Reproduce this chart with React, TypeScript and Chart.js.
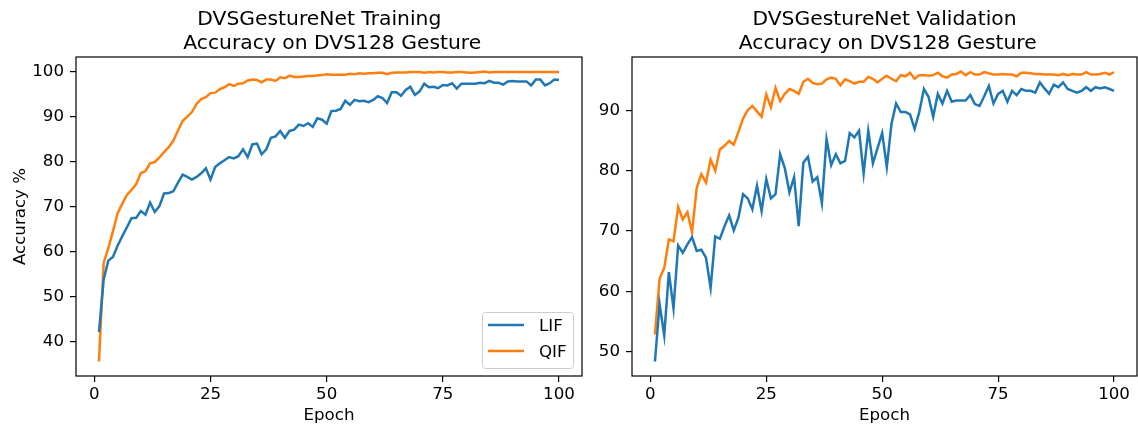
import { useEffect, useRef } from "react";
import { Chart, registerables } from "chart.js";

Chart.register(...registerables);
Chart.defaults.font.family = "'DejaVu Sans', sans-serif";
Chart.defaults.color = "#000";

// Epoch numbers 1..100 on the x axis
const epochs: number[] = Array.from({ length: 100 }, (_, i) => i + 1);

const trainLIF: number[] = [
  42.1, 53.8, 58.0, 58.8, 61.3, 63.4, 65.4, 67.4, 67.5, 69.0,
  68.2, 70.9, 68.8, 70.1, 72.9, 73.0, 73.4, 75.3, 77.1, 76.6,
  76.0, 76.6, 77.4, 78.5, 76.0, 78.8, 79.6, 80.3, 81.0, 80.7,
  81.2, 82.7, 81.0, 83.8, 84.0, 81.6, 82.7, 85.3, 85.6, 86.8,
  85.3, 86.8, 87.1, 88.2, 87.9, 88.5, 87.7, 89.6, 89.3, 88.4,
  91.2, 91.3, 91.7, 93.5, 92.6, 93.7, 93.4, 93.5, 93.2, 93.7,
  94.5, 94.1, 93.0, 95.4, 95.4, 94.6, 95.9, 96.6, 94.8, 95.6,
  97.3, 96.5, 96.6, 96.3, 97.0, 96.9, 97.4, 96.2, 97.3, 97.3,
  97.3, 97.3, 97.5, 97.4, 97.9, 97.5, 97.5, 97.1, 97.8, 97.9,
  97.8, 97.8, 97.8, 96.9, 98.2, 98.2, 96.9, 97.4, 98.2, 98.1,
];

const trainQIF: number[] = [
  35.6, 57.5, 60.8, 64.5, 68.5, 70.6, 72.6, 73.7, 75.0, 77.4,
  77.9, 79.6, 79.9, 80.9, 82.1, 83.2, 84.6, 86.9, 89.0, 90.0,
  91.0, 92.8, 93.9, 94.3, 95.2, 95.3, 96.1, 96.5, 97.2, 96.8,
  97.3, 97.4, 98.0, 98.2, 98.1, 97.6, 98.2, 98.2, 97.9, 98.7,
  98.5, 99.1, 98.8, 98.8, 98.9, 99.0, 99.0, 99.1, 99.2, 99.4,
  99.3, 99.3, 99.3, 99.3, 99.5, 99.4, 99.6, 99.5, 99.6, 99.6,
  99.7, 99.7, 99.4, 99.7, 99.8, 99.8, 99.8, 99.9, 99.9, 99.9,
  99.7, 99.9, 99.8, 99.9, 99.9, 99.8, 99.8, 99.9, 99.9, 99.8,
  99.7, 99.8, 99.9, 100.0, 99.8, 99.9, 99.9, 99.9, 99.9, 99.9,
  99.9, 99.9, 99.9, 99.9, 99.9, 99.9, 99.9, 99.9, 99.9, 99.9,
];

const valLIF: number[] = [
  48.4, 57.9, 52.7, 63.2, 57.2, 67.6, 66.4, 67.8, 69.0, 66.7,
  66.9, 65.6, 60.6, 69.1, 68.7, 70.8, 72.6, 70.1, 72.2, 76.1,
  75.4, 73.6, 77.5, 73.3, 78.6, 75.4, 76.1, 82.7, 80.4, 76.4,
  78.9, 70.8, 81.3, 82.3, 78.2, 78.9, 74.6, 85.2, 80.9, 82.7,
  81.2, 81.6, 86.2, 85.5, 86.6, 79.5, 86.6, 81.2, 83.7, 86.2,
  80.6, 87.7, 91.1, 89.7, 89.7, 89.3, 86.9, 89.7, 93.5, 92.2,
  88.9, 92.7, 91.1, 93.2, 91.4, 91.6, 91.6, 91.6, 92.5, 91.0,
  90.7, 92.3, 94.0, 91.1, 92.7, 93.2, 91.4, 93.2, 92.5, 93.5,
  93.2, 93.2, 92.9, 94.6, 93.6, 92.7, 94.2, 93.8, 94.6, 93.5,
  93.2, 92.9, 93.2, 93.8, 93.2, 93.8, 93.6, 93.8, 93.5, 93.2,
];

const valQIF: number[] = [
  52.9, 62.1, 63.9, 68.6, 68.3, 74.0, 71.9, 73.1, 69.8, 77.1,
  79.4, 78.0, 81.8, 80.0, 83.5, 84.1, 84.9, 84.3, 86.4, 88.6,
  90.0, 90.7, 89.8, 88.9, 92.6, 90.5, 93.7, 91.5, 92.7, 93.5,
  93.2, 92.7, 94.7, 95.2, 94.5, 94.3, 94.4, 95.1, 95.4, 95.2,
  94.1, 95.1, 94.8, 94.4, 94.7, 94.7, 95.5, 95.2, 94.6, 95.2,
  95.7, 95.2, 94.8, 95.8, 95.6, 96.2, 95.2, 95.8, 95.8, 95.7,
  95.8, 96.2, 95.6, 95.4, 95.9, 96.0, 96.4, 95.8, 96.3, 95.9,
  95.9, 96.3, 96.1, 95.9, 95.9, 96.0, 95.9, 95.9, 95.6, 96.2,
  96.2, 96.1, 96.0, 96.0, 95.9, 95.9, 95.9, 95.8, 96.0, 95.8,
  96.0, 95.9, 95.9, 96.3, 95.9, 95.9, 96.0, 96.2, 95.9, 96.3,
];

const epochTicks: number[] = [0, 25, 50, 75, 100];
const trainAccTicks: number[] = [40, 50, 60, 70, 80, 90, 100];
const valAccTicks: number[] = [50, 60, 70, 80, 90];

const seriesNames = ["LIF", "QIF"];
const seriesColors = ["#1f77b4", "#ff7f0e"];

const FONT = "'DejaVu Sans', sans-serif";
const TICK_PX = 16.67;
const TITLE_PX = 20.3;
const LINE_W = 2.5;

// axis limits with a 5% margin around the data, as matplotlib does
function autoLimits(values: number[]): [number, number] {
  const lo = Math.min(...values);
  const hi = Math.max(...values);
  const m = (hi - lo) * 0.05;
  return [lo - m, hi + m];
}

type PanelSpec = {
  title: string[];
  lif: number[];
  qif: number[];
  yTicks: number[];
  yLabel: string | null;
  legend: boolean;
  canvasLeft: number;
  canvasWidth: number;
  pad: { top: number; right: number; bottom: number; left: number };
  yAxisWidth: number;
  xAxisHeight: number;
};

const panels: PanelSpec[] = [
  {
    title: ["DVSGestureNet Training   ", " Accuracy on DVS128 Gesture"],
    lif: trainLIF,
    qif: trainQIF,
    yTicks: trainAccTicks,
    yLabel: "Accuracy %",
    legend: true,
    canvasLeft: 0,
    canvasWidth: 590,
    pad: { top: 57, right: 8, bottom: 0, left: 0 },
    yAxisWidth: 76,
    xAxisHeight: 60,
  },
  {
    title: ["DVSGestureNet Validation", " Accuracy on DVS128 Gesture"],
    lif: valLIF,
    qif: valQIF,
    yTicks: valAccTicks,
    yLabel: null,
    legend: false,
    canvasLeft: 590,
    canvasWidth: 548,
    pad: { top: 57, right: 1, bottom: 0, left: 0 },
    yAxisWidth: 42,
    xAxisHeight: 60,
  },
];

// Frame, titles, axis labels and legend drawn around the plot area
const decorPlugin = {
  id: "panelDecor",
  afterDraw(chart: any, _args: any, opts: any) {
    const ctx: CanvasRenderingContext2D = chart.ctx;
    const ca = chart.chartArea;
    const cx = (ca.left + ca.right) / 2;
    ctx.save();

    // four-sided frame
    ctx.strokeStyle = "#000";
    ctx.lineWidth = 1.2;
    ctx.strokeRect(ca.left, ca.top, ca.right - ca.left, ca.bottom - ca.top);

    // title (two lines, each centred over the plot)
    ctx.fillStyle = "#000";
    ctx.textAlign = "center";
    ctx.textBaseline = "alphabetic";
    ctx.font = `${TITLE_PX}px ${FONT}`;
    const lines: string[] = opts.title;
    lines.forEach((t, i) => {
      const y = ca.top - 8 - (lines.length - 1 - i) * 24;
      ctx.fillText(t, cx, y);
    });

    // x label
    ctx.font = `${TICK_PX}px ${FONT}`;
    ctx.fillText("Epoch", cx, ca.bottom + 44);

    // y label
    if (opts.yLabel) {
      ctx.save();
      ctx.translate(ca.left - 51, (ca.top + ca.bottom) / 2);
      ctx.rotate(-Math.PI / 2);
      ctx.textAlign = "center";
      ctx.fillText(opts.yLabel, 0, 0);
      ctx.restore();
    }

    // legend box in the lower right corner
    if (opts.legend) {
      const w = 91;
      const h = 56;
      const x0 = ca.right - 9 - w;
      const y0 = ca.bottom - 8 - h;
      ctx.beginPath();
      ctx.roundRect(x0 + 0.5, y0 + 0.5, w, h, 3);
      ctx.fillStyle = "rgba(255,255,255,0.8)";
      ctx.fill();
      ctx.strokeStyle = "#cccccc";
      ctx.lineWidth = 1;
      ctx.stroke();
      ctx.textAlign = "left";
      seriesNames.forEach((name, i) => {
        const ly = y0 + 13 + i * 26;
        ctx.beginPath();
        ctx.moveTo(x0 + 6, ly);
        ctx.lineTo(x0 + 42, ly);
        ctx.strokeStyle = seriesColors[i];
        ctx.lineWidth = LINE_W;
        ctx.stroke();
        ctx.fillStyle = "#000";
        ctx.fillText(name, x0 + 57, ly + 6);
      });
    }
    ctx.restore();
  },
};

function Panel({ spec }: { spec: PanelSpec }) {
  const ref = useRef<HTMLCanvasElement | null>(null);

  useEffect(() => {
    if (!ref.current) return;
    const [xMin, xMax] = autoLimits(epochs);
    const [yMin, yMax] = autoLimits([...spec.lif, ...spec.qif]);
    const chart = new Chart(ref.current, {
      type: "line",
      data: {
        datasets: [spec.lif, spec.qif].map((vals, i) => ({
          label: seriesNames[i],
          data: epochs.map((e, k) => ({ x: e, y: vals[k] })),
          borderColor: seriesColors[i],
          backgroundColor: seriesColors[i],
          borderWidth: LINE_W,
          pointRadius: 0,
          tension: 0,
          fill: false,
        })),
      },
      options: {
        animation: false,
        responsive: false,
        devicePixelRatio: 1,
        layout: { padding: spec.pad },
        plugins: {
          legend: { display: false },
          title: { display: false },
          tooltip: { enabled: false },
          panelDecor: {
            title: spec.title,
            yLabel: spec.yLabel,
            legend: spec.legend,
          },
        } as any,
        scales: {
          x: {
            type: "linear",
            min: xMin,
            max: xMax,
            afterBuildTicks: (s: any) => {
              s.ticks = epochTicks.map((v) => ({ value: v }));
            },
            afterFit: (s: any) => {
              s.height = spec.xAxisHeight;
            },
            grid: {
              drawOnChartArea: false,
              drawTicks: true,
              tickLength: 6,
              color: "#000",
              lineWidth: 1.2,
            },
            border: { display: false },
            ticks: {
              font: { size: TICK_PX },
              color: "#000",
              padding: 3,
              maxRotation: 0,
              autoSkip: false,
              callback: (v: any) => String(v),
            },
          },
          y: {
            type: "linear",
            min: yMin,
            max: yMax,
            afterBuildTicks: (s: any) => {
              s.ticks = spec.yTicks.map((v) => ({ value: v }));
            },
            afterFit: (s: any) => {
              s.width = spec.yAxisWidth;
            },
            grid: {
              drawOnChartArea: false,
              drawTicks: true,
              tickLength: 6,
              color: "#000",
              lineWidth: 1.2,
            },
            border: { display: false },
            ticks: {
              font: { size: TICK_PX },
              color: "#000",
              padding: 6,
              autoSkip: false,
              callback: (v: any) => String(v),
            },
          },
        },
      },
      plugins: [decorPlugin],
    } as any);
    return () => chart.destroy();
  }, [spec]);

  return (
    <canvas
      ref={ref}
      width={spec.canvasWidth}
      height={436}
      style={{
        position: "absolute",
        left: spec.canvasLeft,
        top: 0,
        width: spec.canvasWidth,
        height: 436,
        display: "block",
      }}
    />
  );
}

export default function App() {
  return (
    <div
      style={{
        position: "fixed",
        left: 0,
        top: 0,
        width: 1138,
        height: 436,
        background: "#fff",
      }}
    >
      {panels.map((p, i) => (
        <Panel key={i} spec={p} />
      ))}
    </div>
  );
}
